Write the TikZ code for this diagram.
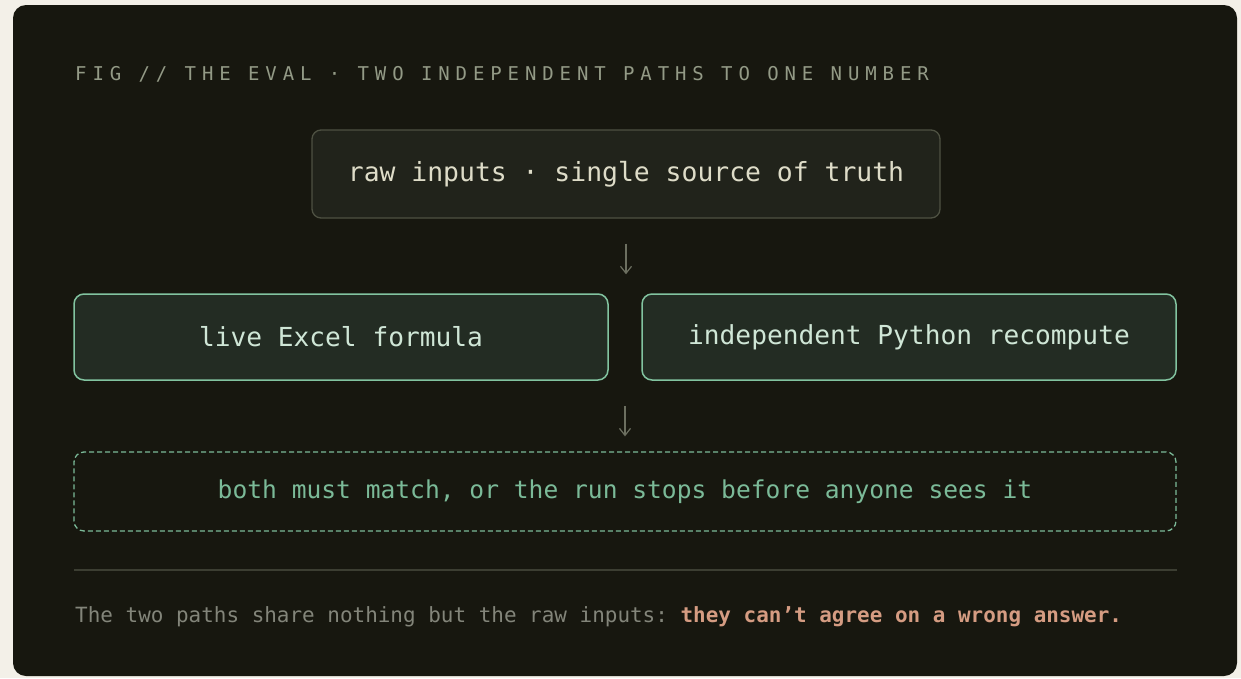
\documentclass[tikz,border=0pt]{standalone}
\usepackage{fontspec}
\setmonofont{DejaVu Sans Mono}
\newfontfamily\figfont[LetterSpace=31]{DejaVu Sans Mono}
\usepackage{tikz}
\usetikzlibrary{arrows.meta}
\definecolor{canvas}{HTML}{F3F0E8}
\definecolor{panel}{HTML}{17170F}
\definecolor{figgrey}{HTML}{939A86}
\definecolor{srcfill}{HTML}{21231B}
\definecolor{srcline}{HTML}{4E5142}
\definecolor{srctext}{HTML}{DEDCC8}
\definecolor{arrowgrey}{HTML}{6C6F60}
\definecolor{pathfill}{HTML}{232C23}
\definecolor{mint}{HTML}{82C4A0}
\definecolor{pathtext}{HTML}{CFE6D6}
\definecolor{rulegrey}{HTML}{3C3E32}
\definecolor{notegrey}{HTML}{83857A}
\definecolor{salmon}{HTML}{D59C82}
\def\panelshape{(13,5) rectangle (1237,676)}

\begin{document}
\begin{tikzpicture}[x=1pt,y=-1pt,
    srcbox/.style={draw=srcline,fill=srcfill,line width=1.3pt,rounded corners=9pt,
        minimum width=628pt,minimum height=88pt,text=srctext,
        font=\ttfamily\fontsize{26.4}{30}\selectfont},
    pathbox/.style={draw=mint,fill=pathfill,line width=1.5pt,rounded corners=10pt,
        minimum width=534pt,minimum height=86pt,text=pathtext,
        font=\ttfamily\fontsize{26.2}{30}\selectfont},
    checkbox/.style={draw=mint!95!black,dashed,dash pattern=on 5pt off 3pt,line width=1.3pt,
        rounded corners=10pt,minimum width=1102pt,minimum height=79pt,text=mint!95!black,
        font=\ttfamily\fontsize{24.6}{28}\selectfont},
    flow/.style={draw=arrowgrey,line width=1.2pt,-{Straight Barb[length=7pt,width=11pt]}}]
    \useasboundingbox[fill=canvas] (0,0) rectangle (1241,678);
    \fill[panel,rounded corners=13pt] \panelshape;
    \node[anchor=base west,inner sep=0pt,text=figgrey,font=\figfont\fontsize{19}{22}\selectfont] (fig) at (75,80)
        {FIG // THE EVAL · TWO INDEPENDENT PATHS TO ONE NUMBER};
    \node[srcbox] (src) at (626,174) {raw inputs · single source of truth};
    \node[pathbox] (excel) at (341,337) {live Excel formula};
    \node[pathbox] (python) at (909,337) {independent Python recompute};
    \node[checkbox] (check) at (625,491.5) {both must match, or the run stops before anyone sees it};
    \draw[flow] ([yshift=-25pt]src.south) -- ([yshift=19pt]src.south |- excel.north);
    \draw[flow] ([yshift=-25pt]check.north |- excel.south) -- ([yshift=15pt]check.north);
    \draw[rulegrey,line width=1.5pt] (74,570) -- (1177,570);
    \node[anchor=base west,inner sep=0pt,text=notegrey,font=\ttfamily\fontsize{20.95}{25}\selectfont] (note) at (75,622)
        {The two paths share nothing but the raw inputs: \textcolor{salmon}{\bfseries they can’t agree on a wrong answer.}};
\end{tikzpicture}
\end{document}
